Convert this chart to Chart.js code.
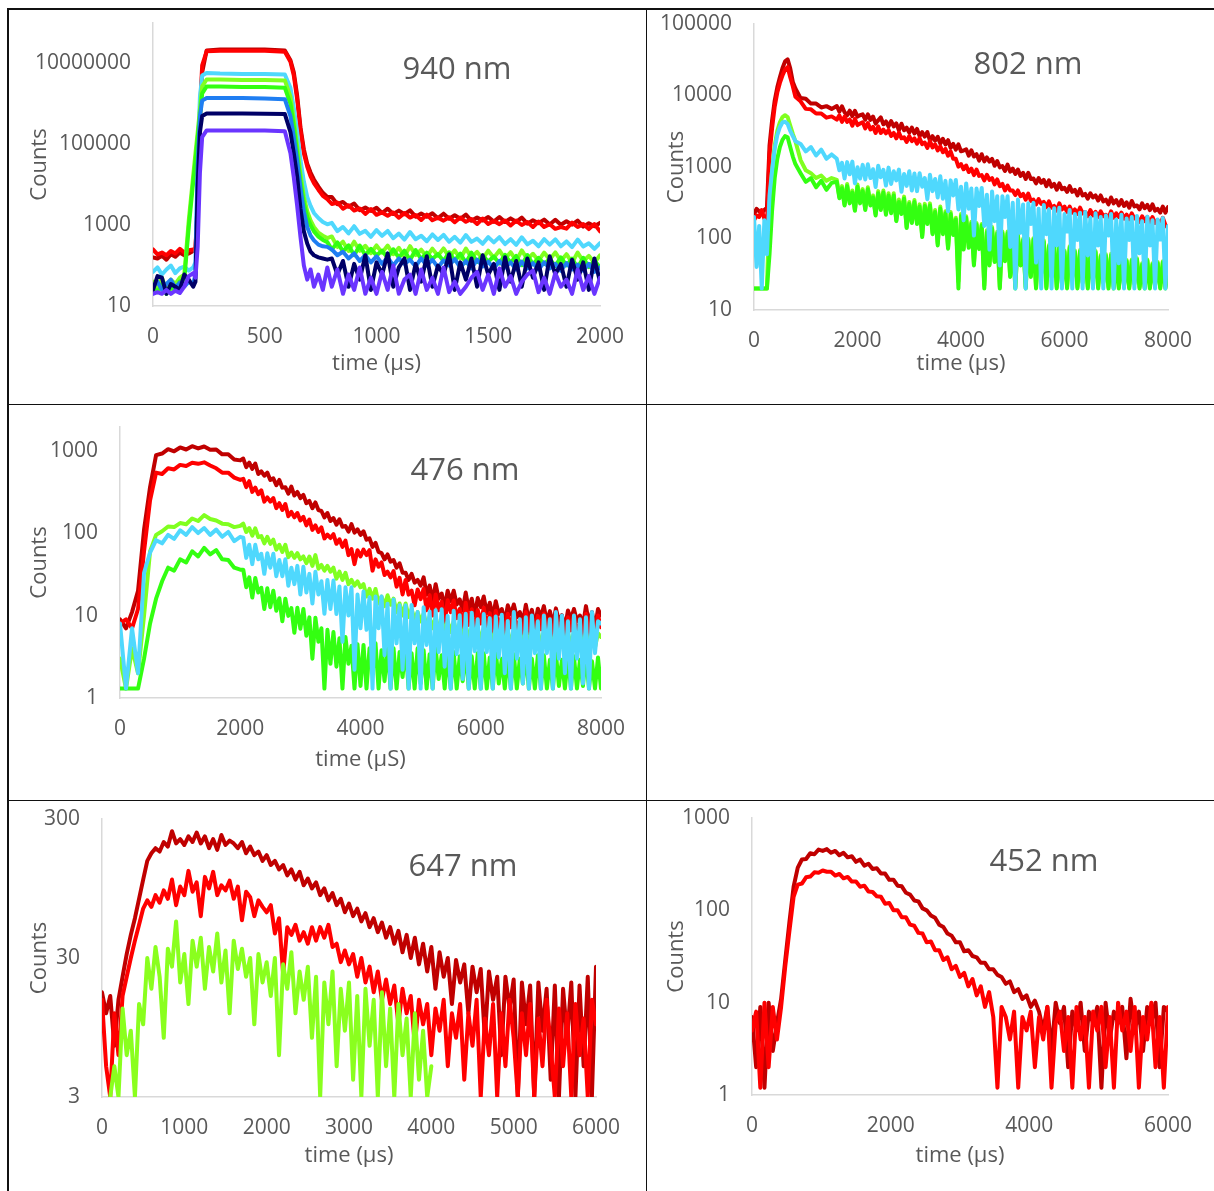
<!DOCTYPE html>
<html lang="pt-BR">
<head>
<meta charset="utf-8">
<title>Decaimentos</title>
<script src="https://cdn.jsdelivr.net/npm/chart.js@4.4.1/dist/chart.umd.min.js"></script>
<style>
  html, body { margin: 0; padding: 0; background: #fff; }
  body { position: relative; width: 1214px; height: 1191px; overflow: hidden; font-family: 'Open Sans', sans-serif; }
  canvas { position: absolute; }
  .linha { position: absolute; background: #111; }
  .rotulo { position: absolute; transform: translate(-50%, -50%); font-size: 31px; line-height: 1; color: #595959; white-space: nowrap; }
</style>
</head>
<body>
<canvas id="g940"></canvas>
<canvas id="g802"></canvas>
<canvas id="g476"></canvas>
<canvas id="g647"></canvas>
<canvas id="g452"></canvas>

<!-- linhas da tabela -->
<div class="linha" style="left:7px;top:8px;width:1207px;height:1.5px"></div>
<div class="linha" style="left:7px;top:8px;width:1.5px;height:1183px"></div>
<div class="linha" style="left:645.5px;top:8px;width:1.5px;height:1183px"></div>
<div class="linha" style="left:7px;top:403.5px;width:1207px;height:1.5px"></div>
<div class="linha" style="left:7px;top:799.5px;width:1207px;height:1.5px"></div>

<div class="rotulo" style="left:457px;top:67px">940 nm</div>
<div class="rotulo" style="left:1028px;top:62px">802 nm</div>
<div class="rotulo" style="left:465px;top:468px">476 nm</div>
<div class="rotulo" style="left:463px;top:864px">647 nm</div>
<div class="rotulo" style="left:1044px;top:859px">452 nm</div>

<script>
const cores = {
    vinho: '#c00000',
    vermelho: '#ff0000',
    ciano: '#4fd8fd',
    verdeClaro: '#80ff20',
    verde: '#33ff11',
    azul: '#1f7ef2',
    marinho: '#000066',
    violeta: '#6a35ff',
    verdeLimao: '#8aff1e'
};
const corTexto = '#595959';
const corEixo = '#d9d9d9';

Chart.defaults.font.family = "'Open Sans', sans-serif";
Chart.defaults.color = corTexto;

// ---- 940 nm ----
const tempo940 = [0,20,40,60,80,100,120,140,160,180,
    190,200,210,220,240,
    300,400,500,590,
    615,630,645,660,675,690,705,720,740,760,780,
    800,825,850,875,900,925,950,975,1000,1025,1050,1075,1100,1125,1150,1175,1200,1225,1250,1275,
    1300,1325,1350,1375,1400,1425,1450,1475,1500,1525,1550,1575,1600,1625,1650,1675,1700,1725,1750,1775,
    1800,1825,1850,1875,1900,1925,1950,1975,2000];
const vinho940 = [160,150,175,140,190,165,210,180,200,230,
    260,3000,4e5,6e6,2.1e7,
    2.2e7,2.2e7,2.2e7,2.1e7,
    1.2e7,6e6,1.6e6,2.6e5,7.5e4,3.3e4,2e4,1.35e4,9000,6300,5000,
    4950,3300,3740,2850,3420,2340,2730,2250,2690,2000,
    2550,1890,2290,1860,2310,1620,1940,1620,1960,1490,
    1920,1440,1760,1440,1820,1280,1550,1300,1590,1220,
    1590,1200,1470,1210,1530,1090,1320,1120,1370,1040,
    1360,1020,1250,1030,1300,920,1110,940,1140];
const vermelho940 = [250,190,210,180,230,200,260,210,240,250,
    270,4000,6e5,9e6,2.0e7,
    2.05e7,2.05e7,2.05e7,1.95e7,
    1.1e7,5e6,1.3e6,2.2e5,6e4,2.8e4,1.6e4,1.1e4,7500,5300,4400,
    3330,3640,2540,3100,2300,2590,1900,2510,1800,2060,
    1700,2050,1520,1980,1540,1780,1340,1820,1320,1530,
    1290,1570,1180,1540,1210,1420,1070,1460,1070,1260,
    1060,1300,980,1290,1010,1190,900,1230,900,1050,
    810,900,820,1150,900,1060,800,1060,700];
const ciano940 = [70,90,60,80,100,65,85,95,75,90,
    120,5e4,1.5e6,5e6,5.8e6,
    5.6e6,5.5e6,5.5e6,5.3e6,
    2.5e6,8e5,2e5,4e4,1.2e4,5000,3000,2000,1500,1200,1050,
    1140,715,900,625,940,610,725,515,755,545,
    720,475,620,440,675,450,545,400,590,430,
    575,390,515,370,570,385,465,345,505,375,
    505,340,450,325,500,335,410,300,450,330,
    445,300,395,285,440,295,355,260,360];
const verdeClaro940 = [40,30,50,25,45,35,50,60,1300,1.7e4,
    6e4,2e5,7.4e5,2.7e6,4e6,
    4e6,3.9e6,3.9e6,3.8e6,
    1.5e6,4e5,9e4,1.8e4,5000,2200,1300,900,650,550,480,
    525,290,390,230,390,232,308,202,314,209,
    312,191,276,169,302,182,247,166,262,176,
    265,164,238,148,263,160,218,147,233,157,
    237,147,214,132,237,144,196,132,209,141,
    212,131,191,118,210,128,174,117,180];
const verde940 = [30,22,35,20,28,25,40,45,900,1.2e4,
    4e4,1.5e5,5e5,1.8e6,2.7e6,
    2.7e6,2.6e6,2.6e6,2.5e6,
    1e6,2.8e5,6e4,1.2e4,3500,1600,1000,700,520,430,380,
    248,375,224,318,180,312,181,259,179,233,
    155,253,158,233,137,243,144,208,146,193,
    129,213,134,198,117,208,123,179,126,167,
    113,185,117,173,102,182,108,156,110,145,
    98,160,101,149,88,156,92,133,90];
const azul940 = [30,40,25,35,45,28,38,30,40,35,
    60,3e4,5e5,1.2e6,1.4e6,
    1.4e6,1.4e6,1.35e6,1.3e6,
    5e5,1.5e5,4e4,8000,2200,900,550,420,330,300,290,
    250,180,220,150,200,130,180,120,170,110,160,100,150,110,140,95,150,100,140,90,
    135,100,145,90,130,85,140,95,125,85,130,90,120,80,125,85,115,80,120,85,
    110,75,115,80,105,75,110,70,90];
const marinho940 = [25,55,50,20,35,30,25,60,45,30,
    40,1e4,2e5,5e5,5.8e5,
    5.8e5,5.8e5,5.7e5,5.6e5,
    2e5,6e4,1.6e4,2500,700,350,220,180,160,150,140,
    150,60,130,30,110,45,180,25,120,60,200,30,90,150,25,110,40,170,30,100,
    60,190,25,120,45,150,30,180,60,110,25,160,40,130,30,150,50,120,25,170,
    60,110,30,140,45,120,25,150,40];
const violeta940 = [20,22,20,25,20,24,21,30,55,65,
    50,300,2e4,1.5e5,2.2e5,
    2.2e5,2.2e5,2.2e5,2.1e5,
    6e4,1.5e4,3000,500,100,45,80,30,60,25,90,
    30,80,20,60,25,90,20,50,20,70,25,100,20,45,60,20,80,25,50,20,
    90,22,40,20,30,50,70,25,60,20,85,30,55,20,40,60,75,22,50,20,
    65,30,45,20,80,25,55,20,50];
const ticksX940 = [0, 500, 1000, 1500, 2000];
const ticksY940 = [10, 1000, 100000, 10000000];

// ---- 802 nm ----
const tempo802 = [0,50,100,150,200,250,300,350,400,450,500,550,600,650,
    700,750,800,900,1000,1100,1200,1300,1400,1500,
    1600,1650,1700,1750,1800,1850,1900,1950,2000,2050,
    2100,2150,2200,2250,2300,2350,2400,2450,2500,2550,
    2600,2650,2700,2750,2800,2850,2900,2950,3000,3050,
    3100,3150,3200,3250,3300,3350,3400,3450,3500,3550,
    3600,3650,3700,3750,3800,3850,3900,3950,4000,4050,
    4100,4150,4200,4250,4300,4350,4400,4450,4500,4550,
    4600,4650,4700,4750,4800,4850,4900,4950,5000,5050,
    5100,5150,5200,5250,5300,5350,5400,5450,5500,5550,
    5600,5650,5700,5750,5800,5850,5900,5950,6000,6050,
    6100,6150,6200,6250,6300,6350,6400,6450,6500,6550,
    6600,6650,6700,6750,6800,6850,6900,6950,7000,7050,
    7100,7150,7200,7250,7300,7350,7400,7450,7500,7550,
    7600,7650,7700,7750,7800,7850,7900,7950,8000];
const vinho802 = [220,260,240,230,250,270,2000,4500,8500,1.3e4,1.8e4,2.4e4,3e4,3.2e4,
    2.4e4,1.55e4,1.25e4,9200,9000,7700,7700,6800,7100,6500,
    7130,5930,7060,5840,5280,6140,5130,6100,5070,5300,
    5460,4590,5450,4560,5080,4050,4500,4930,3960,4330,
    3690,4400,3700,4070,3260,4030,3260,3540,3020,3560,
    2940,3410,2700,3070,2660,3080,2330,2700,2330,2650,
    2120,2480,2070,2370,1850,2100,1750,2070,1660,1700,
    1770,1440,1710,1400,1510,1230,1510,1200,1360,1190,
    1300,1040,1210,990,1030,880,1080,860,950,800,
    920,750,830,680,830,680,690,590,700,600,
    660,540,650,530,580,480,590,490,510,450,
    540,450,480,400,490,400,420,360,430,375,
    400,340,400,330,350,300,375,310,345,290,
    345,285,320,270,335,280,290,255,310,265,
    295,250,300,245,260,230,280,230,275];
const vermelho802 = [180,210,200,250,190,160,1500,3500,7000,1.1e4,1.5e4,1.9e4,2.3e4,2.5e4,
    1.8e4,1.35e4,9600,8300,6500,6400,5600,5600,4900,5100,
    4600,5270,4280,5080,4280,4620,3780,4700,3860,4050,
    4230,3470,4130,3350,3640,2990,3700,2990,3340,2950,
    3300,2710,2990,2520,3020,2520,2600,2240,2700,2300,
    2520,2120,2530,2090,2200,1850,2300,1880,2070,1710,
    1940,1610,1790,1440,1650,1300,1300,1010,1100,930,
    1050,850,950,770,920,750,770,650,780,660,
    700,570,670,540,580,470,550,470,470,405,
    470,390,420,350,425,335,350,300,355,305,
    325,275,330,270,285,245,310,255,280,235,
    280,230,255,220,270,225,235,205,250,210,
    235,200,240,205,215,195,240,195,225,200,
    230,190,215,185,225,190,195,170,205,175,
    200,165,200,165,180,160,195,155,140];
const verdeClaro802 = [20,20,20,20,20,20,300,900,2000,3200,4200,5000,5300,5000,
    3800,2900,2300,1250,900,820,700,760,640,700,
    660,380,540,300,580,320,470,250,570,330,
    490,260,520,300,400,220,460,260,470,225,
    430,235,430,180,350,230,385,145,325,170,
    345,165,300,110,305,165,310,120,250,85,
    280,120,240,75,235,115,195,25,220,72,
    205,76,172,44,165,73,160,22,130,44,
    145,48,124,21,125,50,125,30,100,21,
    114,43,99,21,100,30,101,21,82,33,
    94,21,81,30,83,21,84,24,68,21,
    78,30,68,21,69,25,71,21,59,27,
    67,21,59,25,60,21,61,21,50,21,
    57,23,50,21,51,24,53,21,45,21,
    51,21,45,23,47,21,48,21,38];
const ciano802 = [200,40,150,20,180,60,400,900,1800,2800,3600,4200,4300,4000,
    3200,2700,2300,2100,1650,1900,1450,1750,1300,1500,
    1300,900,1140,690,1170,790,1190,590,990,690,
    1070,670,1090,700,930,525,1040,720,910,550,
    980,580,870,650,920,450,800,545,870,470,
    810,460,820,530,700,355,780,460,680,375,
    740,360,640,240,650,400,660,255,530,180,
    590,260,500,110,500,285,510,150,410,70,
    455,175,390,42,390,200,390,76,315,20,
    350,120,300,20,310,160,315,46,260,20,
    295,115,255,20,265,80,270,20,220,125,
    250,20,220,95,230,20,235,58,195,20,
    226,80,200,20,210,110,220,20,185,45,
    215,20,190,95,200,20,207,62,175,20,
    202,80,180,20,185,97,193,20,150];
const verde802 = [20,20,20,20,20,20,60,250,700,1300,1900,2400,2700,2600,
    1900,1400,1100,820,620,700,520,640,480,600,
    620,365,505,290,540,310,440,245,530,310,
    460,250,490,290,375,210,430,250,440,215,
    400,225,400,175,325,220,360,140,305,165,
    325,160,280,105,285,160,290,115,235,80,
    262,115,225,72,220,112,185,20,205,70,
    195,74,162,42,157,71,152,20,122,42,
    137,47,117,20,118,48,118,29,95,20,
    108,42,94,20,95,29,96,20,78,32,
    89,20,77,29,79,20,80,23,65,20,
    74,29,65,20,66,24,68,20,56,26,
    64,20,56,24,57,20,58,20,48,20,
    54,22,48,20,49,23,51,20,43,20,
    49,20,43,22,45,20,46,20,36];
const ticksX802 = [0, 2000, 4000, 6000, 8000];
const ticksY802 = [10, 100, 1000, 10000, 100000];

// ---- 476 nm ----
const tempo476 = [0,100,200,300,400,500,600,700,800,900,
    1000,1100,1200,1300,1400,1500,1600,1700,1800,1900,2000,
    2050,2100,2150,2200,2250,2300,2350,2400,2450,2500,
    2550,2600,2650,2700,2750,2800,2850,2900,2950,3000,
    3050,3100,3150,3200,3250,3300,3350,3400,3450,3500,
    3550,3600,3650,3700,3750,3800,3850,3900,3950,4000,
    4050,4100,4150,4200,4250,4300,4350,4400,4450,4500,
    4550,4600,4650,4700,4750,4800,4850,4900,4950,5000,
    5050,5100,5150,5200,5250,5300,5350,5400,5450,5500,
    5550,5600,5650,5700,5750,5800,5850,5900,5950,6000,
    6050,6100,6150,6200,6250,6300,6350,6400,6450,6500,
    6550,6600,6650,6700,6750,6800,6850,6900,6950,7000,
    7050,7100,7150,7200,7250,7300,7350,7400,7450,7500,
    7550,7600,7650,7700,7750,7800,7850,7900,7950,8000];
const vinho476 = [9,7,11,20,110,360,880,920,1040,980,
    1090,1030,1130,1060,1120,1020,1030,900,900,780,760,
    800,630,715,600,695,520,560,495,540,440,
    460,380,440,355,360,300,365,285,315,265,
    290,230,245,200,235,190,185,155,175,140,
    152,126,147,119,122,104,128,101,111,95,
    105,83,86,68,76,59,57,48,55,45,
    47,38,43,33,33,27,32,25,27,23,
    29,18,23,15,24,16,18.5,12.6,20,15,
    20,13.6,15.7,11.5,19,11.8,16,10,16.3,12.6,
    17,10.7,14.3,9.5,14.9,10.4,12,8.3,13.3,10.3,
    13.6,9.5,11,8.2,13.5,8.6,11.7,7.4,12.1,9.5,
    13,8.2,11.3,7.7,12.2,8.6,10.1,7,11.5,9,
    12,8.5,10,7.5,13,8,11,7,12,10];
const vermelho476 = [8,9,7,12,60,250,540,520,610,590,
    670,650,710,690,720,660,610,540,540,470,440,
    455,360,425,315,355,295,330,240,270,240,
    265,200,230,190,225,160,180,155,175,142,
    157,124,146,109,124,103,117,86,96,87,
    97,74,84,68,81,54,64,42,62,52,
    63,54,62,35,48,39,44,31,34,29,
    34.5,22.4,28.6,18,27,17.9,20,13.3,20.7,15.8,
    21,11.6,17.6,10,18,11.6,14.7,8.2,15.3,11,
    15.2,9.3,12,7,14.3,7.7,11.9,5.8,11.7,8,
    12.4,6.9,10.7,5.8,11.4,7,9.8,5,10.5,7.2,
    10.8,6.7,8.9,5.3,11,6.1,9.6,4.7,9.9,6.8,
    10.6,6,9.2,5,10.1,6.2,8.7,4.6,9.5,6.6,
    9.8,6.2,8.2,4.9,10.5,5.7,8.8,4.4,10,7.2];
const verdeClaro476 = [3,1.3,4,2,10,60,95,105,120,118,
    132,128,150,140,165,148,142,130,128,118,122,
    130,103,115,93,114,89,92,75,90,74,
    83,63,72,59,72,51,58,50,57,48,
    52,43,52,40,54,37,41,35,40,34,
    38,28,34,27,33,24,27,23,26,22,
    24,17,21,16,21,14,17,13,17.6,13.5,
    16,11,14,10,14,9.6,12,8.8,11,8.5,
    10.5,7.5,9.5,7,9.5,6.8,8.6,6.5,8.5,6.3,
    8.5,6,7.6,5.5,7.5,5.5,7,5.2,7,5,
    7,5,6.5,4.8,6.8,4.8,6.3,4.6,6.5,4.5,
    6.6,4.6,6.2,4.5,6.5,4.4,6.2,4.4,6.4,4.4,
    6.4,4.4,6,4.2,6.3,4.3,6,4.2,6.2,4.3,
    6.3,4.2,6,4.2,6.2,4.2,6,4.1,6.1,5.5];
const ciano476 = [8,1.3,7,2,33,58,82,75,95,85,
    108,95,118,100,115,95,110,90,103,80,90,
    88,50,72,42,72,48,56,32,57,38,
    56,30,47,30,48,23,38,24,40,18,
    39,19,32,14,34,18,26,10.5,27,12,
    26.5,10.4,22.5,4.8,22,10,22,2.2,18,7,
    19.5,6.7,16.7,1.3,17,7,17,3.3,13.9,1.3,
    15.6,4.6,13.3,2.2,13.3,1.3,13.4,4.6,11,1.3,
    12.6,4.4,11.2,1.3,11.6,3.6,11.9,2.4,9.9,1.3,
    11.4,3.4,10.1,1.7,10.5,1.3,10.8,3.7,9,1.3,
    10.4,3.6,9.3,1.3,9.7,3.1,10.2,2,8.6,1.3,
    11,3,9,1.5,9.5,1.3,10,3.5,8.5,1.3,
    10,3.5,9,1.3,11,3,10,2,8.5,1.3,
    10,3,9,1.5,9.5,1.3,11,3.5,8.5,8];
const verde476 = [1.3,1.3,1.3,1.3,3,8,16,26,38,35,
    48,44,60,52,66,55,62,48,47,38,36,
    36,22,29,16.5,28.5,19,21.7,12,21.4,12.6,
    20,11.4,16.2,8.5,16,9.9,12.3,6.2,12.4,6.9,
    12,5.7,9.5,3,9.4,4.8,7,1.3,6.7,2.6,
    6.3,2.4,5.3,1.3,5.5,2.6,4.3,1.3,4.5,1.4,
    4.4,1.3,4,2,4.6,1.3,3.8,1.6,4.2,1.3,
    4,1.3,3.6,1.8,4.3,1.3,3.5,1.3,4,1.5,
    3.8,1.3,3.4,1.3,4,1.7,3.3,1.3,3.7,1.3,
    3.6,1.3,3.2,1.6,3.8,1.3,3.2,1.3,3.5,1.3,
    3.5,1.3,3.1,1.3,3.7,1.5,3,1.3,3.4,1.3,
    3.4,1.3,3,1.5,3.6,1.3,3,1.3,3.3,1.3,
    3.3,1.3,2.9,1.3,3.5,1.4,2.9,1.3,3.2,1.3,
    3.2,1.3,2.9,1.4,3.4,1.3,2.8,1.3,3.1,1.3];
const ticksX476 = [0, 2000, 4000, 6000, 8000];
const ticksY476 = [1, 10, 100, 1000];

// ---- 647 nm ----
const tempo647 = [0,50,100,150,200,250,300,350,400,450,
    500,550,600,650,700,750,800,850,900,950,
    1000,1050,1100,1150,1200,1250,1300,1350,1400,1450,
    1500,1550,1600,1650,1700,1750,1800,1850,1900,1950,
    2000,2050,2100,2150,2200,2250,2300,2350,2400,2450,
    2500,2550,2600,2650,2700,2750,2800,2850,2900,2950,
    3000,3050,3100,3150,3200,3250,3300,3350,3400,3450,
    3500,3550,3600,3650,3700,3750,3800,3850,3900,3950,
    4000,4050,4100,4150,4200,4250,4300,4350,4400,4450,
    4500,4550,4600,4650,4700,4750,4800,4850,4900,4950,
    5000,5050,5100,5150,5200,5250,5300,5350,5400,5450,
    5500,5550,5600,5650,5700,5750,5800,5850,5900,5950,
    6000];
const vinho647 = [17,12,16,7,15,22,32,44,58,80,
    110,150,170,185,175,205,190,245,200,215,
    195,225,205,240,200,225,185,215,180,230,
    195,210,200,185,205,170,190,165,175,150,
    165,140,150,130,140,118,130,110,125,100,
    112,95,105,85,95,78,88,72,80,64,
    74,60,68,55,63,50,58,46,54,42,
    50,38,47,33,44,30,42,27,38,24,
    36,18,33,22,30,14,29,20,27,12,
    26,17,25,8,24,15,22,6,22,13,
    21,3,20,10,19,3,20,9,18,4,
    19,3,18,8,20,3,19,5,22,3,
    26];
const vermelho647 = [15,5,3,12,6,16,22,30,40,52,
    68,78,70,85,75,92,80,110,72,98,
    85,127,90,105,60,115,95,125,85,100,
    92,108,80,98,56,90,82,60,78,70,
    64,72,45,58,23,50,44,52,40,46,
    38,50,40,50,42,52,36,38,28,34,
    27,32,22,30,20,26,17,24,15,21,
    14,19,10,18,12,16,7,15,10,14,
    6,13,9,15,5,12,8,14,4,12,
    7,15,3,11,6,14,3,12,5,15,
    8,3,12,6,14,3,11,5,15,7,
    3,13,5,12,3,14,6,11,3,15,
    10];
const verde647 = [null,null,3,5,3,13,6,9,3,14,
    10,30,18,36,22,8,35,26,55,20,
    32,14,40,26,42,18,36,24,45,20,
    34,12,40,25,35,22,30,10,32,20,
    28,16,30,6,27,18,33,12,24,15,
    26,8,22,3,20,10,24,5,18,9,
    20,4,16,3,18,7,15,3,17,5,
    13,3,14,6,11,3,12,4,9,3,
    5];
const ticksX647 = [0, 1000, 2000, 3000, 4000, 5000, 6000];
const ticksY647 = [3, 30, 300];

// ---- 452 nm ----
const tempo452 = [0,60,120,180,240,300,360,420,480,540,
    600,660,720,780,840,900,960,1020,1080,1140,
    1200,1260,1320,1380,1440,1500,1560,1620,1680,1740,
    1800,1860,1920,1980,2040,2100,2160,2220,2280,2340,
    2400,2460,2520,2580,2640,2700,2760,2820,2880,2940,
    3000,3060,3120,3180,3240,3300,3360,3420,3480,3540,
    3600,3660,3720,3780,3840,3900,3960,4020,4080,4140,
    4200,4260,4320,4380,4440,4500,4560,4620,4680,4740,
    4800,4860,4920,4980,5040,5100,5160,5220,5280,5340,
    5400,5460,5520,5580,5640,5700,5760,5820,5880,5940,
    6000];
const vinho452 = [7,2,9,1.2,10,3,6,11,29,75,
    180,290,355,360,415,405,455,440,460,420,
    440,395,420,375,385,335,355,305,320,280,
    285,250,250,214,215,185,182,155,148,128,
    125,105,100,88,83,70,66,56,53,45,
    45,36,37,32,31,27,27,23,23,20,
    19,16,17,13,14,11,12,9,10.5,8,
    5,9,3,10,6,9,2,8,5,10,
    3,8,6,9,1.2,10,4,8,6,9,
    2.5,11,5,8,3,9,6,10,2,9,
    8];
const vermelho452 = [5,8,1.2,10,2,9,4,9,25,60,
    140,190,195,228,232,258,255,270,262,262,
    238,248,222,230,205,205,180,185,160,158,
    142,140,118,120,100,100,84,84,70,68,
    57,56,45,46,37,37,29,31,23,25,
    19,21,15,18,12,15,9,13,7,1.2,
    9,7,4,8,1.2,7,5,8,2,7,
    4,9,1.2,6,8,3,7,1.2,9,4,
    7,1.2,8,5,9,2,7,1.2,10,5,
    8,3,9,1.2,7,4,10,2,7,1.2,
    9];
const ticksX452 = [0, 2000, 4000, 6000];
const ticksY452 = [1, 10, 100, 1000];

// monta um painel: celula da tabela e area de plotagem em px da pagina
function criarGrafico(id, caixa, eixos, series) {
    const canvas = document.getElementById(id);
    const cel = caixa.celula;
    const area = caixa.area;
    canvas.style.left = cel.x + 'px';
    canvas.style.top = cel.y + 'px';
    canvas.width = cel.w;
    canvas.height = cel.h;

    // a ultima serie da lista fica por cima
    const datasets = series.map(s => ({
        data: s.dados,
        borderColor: s.cor,
        borderWidth: 4,
        pointRadius: 0,
        tension: 0,
        fill: false,
        borderJoinStyle: 'round',
        borderCapStyle: 'round'
    })).reverse();

    return new Chart(canvas, {
        type: 'line',
        data: { labels: eixos.tempo, datasets: datasets },
        options: {
            responsive: false,
            animation: false,
            events: [],
            layout: {
                padding: { left: 0, top: area.topo - cel.y, right: cel.x + cel.w - area.dir, bottom: 0 }
            },
            plugins: { legend: { display: false }, tooltip: { enabled: false } },
            scales: {
                x: {
                    type: 'linear',
                    min: eixos.ticksX[0],
                    max: eixos.ticksX[eixos.ticksX.length - 1],
                    grid: { display: false, drawTicks: false },
                    border: { display: true, color: corEixo, width: 1.5 },
                    afterBuildTicks: s => { s.ticks = eixos.ticksX.map(v => ({ value: v })); },
                    afterFit: s => {
                        s.height = cel.y + cel.h - area.base;
                        s.paddingLeft = 0;
                        s.paddingRight = 0;
                    },
                    ticks: {
                        color: corTexto, font: { size: 21 }, padding: 18,
                        maxRotation: 0, autoSkip: false,
                        callback: v => String(v)
                    },
                    title: {
                        display: true, text: eixos.tituloX, color: corTexto,
                        font: { size: 22 }, padding: { top: 0, bottom: caixa.padX }
                    }
                },
                y: {
                    type: 'logarithmic',
                    min: eixos.yMin,
                    max: eixos.yMax,
                    grid: { display: false, drawTicks: false },
                    border: { display: true, color: corEixo, width: 1.5 },
                    afterBuildTicks: s => { s.ticks = eixos.ticksY.map(v => ({ value: v })); },
                    afterFit: s => {
                        s.width = area.esq - cel.x;
                        s.paddingTop = 0;
                        s.paddingBottom = 0;
                    },
                    ticks: {
                        color: corTexto, font: { size: 21 }, padding: 22,
                        autoSkip: false,
                        callback: v => String(v)
                    },
                    title: {
                        display: true, text: 'Counts', color: corTexto,
                        font: { size: 22 }, padding: { top: caixa.padY, bottom: 0 }
                    }
                }
            }
        }
    });
}

criarGrafico('g940',
    { celula: { x: 8, y: 9, w: 638, h: 395 }, area: { esq: 153, topo: 23, dir: 600, base: 306 }, padX: 26.8, padY: 18.8 },
    { tempo: tempo940, ticksX: ticksX940, ticksY: ticksY940, yMin: 10, yMax: 1e8, tituloX: 'time (µs)' },
    [
        { dados: vinho940, cor: cores.vinho },
        { dados: vermelho940, cor: cores.vermelho },
        { dados: ciano940, cor: cores.ciano },
        { dados: verdeClaro940, cor: cores.verdeClaro },
        { dados: verde940, cor: cores.verde },
        { dados: azul940, cor: cores.azul },
        { dados: marinho940, cor: cores.marinho },
        { dados: violeta940, cor: cores.violeta }
    ]);

criarGrafico('g802',
    { celula: { x: 647, y: 9, w: 567, h: 395 }, area: { esq: 754, topo: 24, dir: 1168, base: 310 }, padX: 26.8, padY: 16.8 },
    { tempo: tempo802, ticksX: ticksX802, ticksY: ticksY802, yMin: 10, yMax: 1e5, tituloX: 'time (µs)' },
    [
        { dados: vinho802, cor: cores.vinho },
        { dados: vermelho802, cor: cores.vermelho },
        { dados: verdeClaro802, cor: cores.verdeClaro },
        { dados: verde802, cor: cores.verde },
        { dados: ciano802, cor: cores.ciano }
    ]);

criarGrafico('g476',
    { celula: { x: 8, y: 405, w: 638, h: 395 }, area: { esq: 120, topo: 427, dir: 601, base: 698 }, padX: 26.8, padY: 18.8 },
    { tempo: tempo476, ticksX: ticksX476, ticksY: ticksY476, yMin: 1, yMax: 1930, tituloX: 'time (µS)' },
    [
        { dados: vinho476, cor: cores.vinho },
        { dados: vermelho476, cor: cores.vermelho },
        { dados: verdeClaro476, cor: cores.verdeClaro },
        { dados: verde476, cor: cores.verde },
        { dados: ciano476, cor: cores.ciano }
    ]);

criarGrafico('g647',
    { celula: { x: 8, y: 801, w: 638, h: 390 }, area: { esq: 102, topo: 819, dir: 596, base: 1097 }, padX: 21.8, padY: 18.8 },
    { tempo: tempo647, ticksX: ticksX647, ticksY: ticksY647, yMin: 3, yMax: 300, tituloX: 'time (µs)' },
    [
        { dados: vinho647, cor: cores.vinho },
        { dados: vermelho647, cor: cores.vermelho },
        { dados: verde647, cor: cores.verdeLimao }
    ]);

criarGrafico('g452',
    { celula: { x: 647, y: 801, w: 567, h: 390 }, area: { esq: 752, topo: 818, dir: 1168, base: 1095 }, padX: 21.8, padY: 16.8 },
    { tempo: tempo452, ticksX: ticksX452, ticksY: ticksY452, yMin: 1, yMax: 1000, tituloX: 'time (µs)' },
    [
        { dados: vinho452, cor: cores.vinho },
        { dados: vermelho452, cor: cores.vermelho }
    ]);
</script>
</body>
</html>
